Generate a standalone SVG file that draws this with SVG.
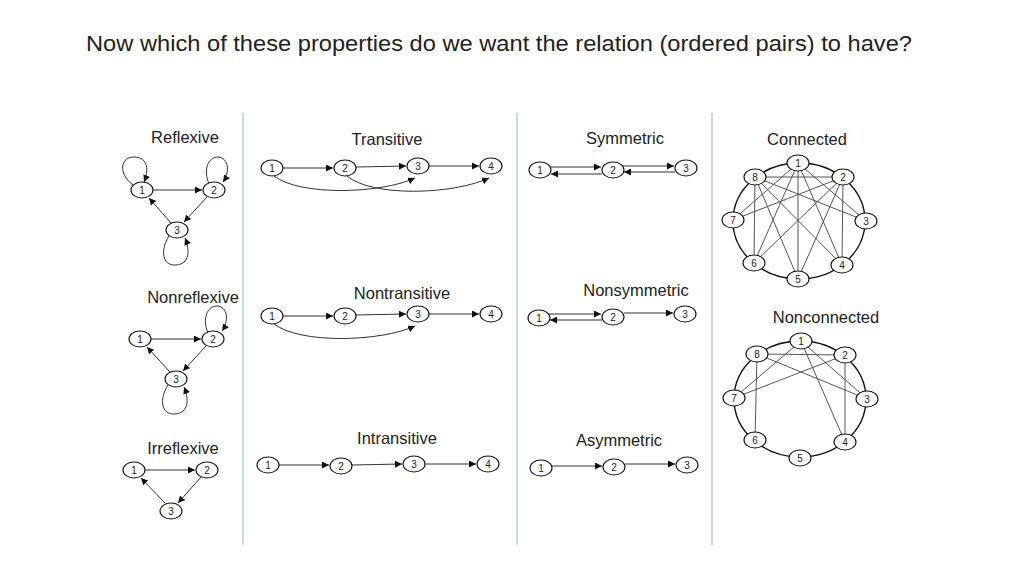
<svg xmlns="http://www.w3.org/2000/svg" width="1024" height="576" viewBox="0 0 1024 576">
<style>
.t{font-family:"Liberation Sans",Arial,sans-serif;font-size:16.5px;fill:#222;text-anchor:middle}
.h{font-family:"Liberation Sans",Arial,sans-serif;font-size:22px;fill:#222}
.n ellipse{fill:#fff;stroke:#111;stroke-width:1.1}
.n text{font-family:"Liberation Sans",Arial,sans-serif;font-size:10px;fill:#222;text-anchor:middle}
.e{fill:none;stroke:#333;stroke-width:1}
.a{fill:none;stroke:#333;stroke-width:1;marker-end:url(#ah)}
.g{fill:none;stroke:#444;stroke-width:0.9}
.div{stroke:#a9bcd0;stroke-width:1.2}
.ring{fill:none;stroke:#111;stroke-width:1.4}
</style>
<defs>
<marker id="ah" markerUnits="userSpaceOnUse" markerWidth="8" markerHeight="7" refX="7" refY="3.5" orient="auto">
<path d="M0,0 L7,3.5 L0,7 z" fill="#111"/>
</marker>
</defs>
<rect width="1024" height="576" fill="#fff"/>
<text class="h" x="86" y="51" textLength="826" lengthAdjust="spacingAndGlyphs">Now which of these properties do we want the relation (ordered pairs) to have?</text>
<g id="dividers">
<line class="div" x1="243" y1="113" x2="243" y2="545"/>
<line class="div" x1="517" y1="113" x2="517" y2="545"/>
<line class="div" x1="712" y1="113" x2="712" y2="545"/>
</g>
<g id="titles">
<text class="t" x="185" y="143">Reflexive</text>
<text class="t" x="193" y="303">Nonreflexive</text>
<text class="t" x="183" y="454">Irreflexive</text>
<text class="t" x="387" y="145">Transitive</text>
<text class="t" x="402" y="299">Nontransitive</text>
<text class="t" x="397" y="444">Intransitive</text>
<text class="t" x="625" y="144">Symmetric</text>
<text class="t" x="636" y="296">Nonsymmetric</text>
<text class="t" x="619" y="446">Asymmetric</text>
<text class="t" x="807" y="145">Connected</text>
<text class="t" x="826" y="323">Nonconnected</text>
</g>
<g id="connectors">
<!-- Reflexive -->
<line class="a" x1="153" y1="190" x2="202" y2="190"/>
<line class="a" x1="207" y1="197" x2="184" y2="222"/>
<line class="a" x1="171" y1="223" x2="149" y2="198"/>
<path class="a" d="M133,185 C117,173 121,156 135,157 C148,158 149,170 144,182"/>
<path class="a" d="M209,184 C203,170 208,157 218,157 C229,158 230,172 223,182"/>
<path class="a" d="M169,236 C160,250 162,266 176,265 C190,264 190,250 185,238"/>
<!-- Nonreflexive -->
<line class="a" x1="151" y1="339" x2="201" y2="339"/>
<line class="a" x1="206" y1="346" x2="183" y2="371"/>
<line class="a" x1="170" y1="372" x2="147" y2="347"/>
<path class="a" d="M208,333 C202,319 207,306 217,306 C228,307 229,321 222,331"/>
<path class="a" d="M168,385 C159,399 161,415 175,414 C189,413 189,399 184,387"/>
<!-- Irreflexive -->
<line class="a" x1="145" y1="470" x2="195" y2="470"/>
<line class="a" x1="201" y1="477" x2="178" y2="503"/>
<line class="a" x1="165" y1="503" x2="141" y2="478"/>
<!-- Transitive -->
<line class="a" x1="283" y1="168" x2="333" y2="168"/>
<line class="a" x1="356" y1="167" x2="406" y2="166"/>
<line class="a" x1="429" y1="166" x2="479" y2="166"/>
<path class="a" d="M274,176 C300,196 380,194 415,178"/>
<path class="a" d="M347,176 C372,197 452,195 489,178"/>
<!-- Nontransitive -->
<line class="a" x1="283" y1="316" x2="333" y2="316"/>
<line class="a" x1="356" y1="315" x2="406" y2="314"/>
<line class="a" x1="429" y1="314" x2="479" y2="314"/>
<path class="a" d="M274,324 C300,344 380,342 415,326"/>
<!-- Intransitive -->
<line class="a" x1="279" y1="465" x2="329" y2="465"/>
<line class="a" x1="352" y1="465" x2="402" y2="464"/>
<line class="a" x1="425" y1="464" x2="476" y2="464"/>
<!-- Symmetric -->
<line class="a" x1="550" y1="167" x2="601" y2="167"/>
<line class="a" x1="602" y1="174" x2="551" y2="174"/>
<line class="a" x1="623" y1="166" x2="674" y2="166"/>
<line class="a" x1="675" y1="172" x2="624" y2="172"/>
<!-- Nonsymmetric -->
<line class="a" x1="549" y1="314" x2="601" y2="314"/>
<line class="a" x1="602" y1="320" x2="550" y2="320"/>
<line class="a" x1="624" y1="313" x2="673" y2="313"/>
<!-- Asymmetric -->
<line class="a" x1="552" y1="466" x2="602" y2="466"/>
<line class="a" x1="625" y1="464" x2="675" y2="464"/>
<!-- Connected -->
<ellipse class="ring" cx="799" cy="221" rx="66" ry="58"/>
<line class="g" x1="798" y1="163" x2="733" y2="220"/>
<line class="g" x1="798" y1="163" x2="754" y2="263"/>
<line class="g" x1="798" y1="163" x2="798" y2="279"/>
<line class="g" x1="798" y1="163" x2="842" y2="265"/>
<line class="g" x1="798" y1="163" x2="866" y2="221"/>
<line class="g" x1="755" y1="177" x2="843" y2="177"/>
<line class="g" x1="755" y1="177" x2="866" y2="221"/>
<line class="g" x1="755" y1="177" x2="842" y2="265"/>
<line class="g" x1="755" y1="177" x2="798" y2="279"/>
<line class="g" x1="755" y1="177" x2="754" y2="263"/>
<line class="g" x1="843" y1="177" x2="733" y2="220"/>
<line class="g" x1="843" y1="177" x2="754" y2="263"/>
<line class="g" x1="843" y1="177" x2="798" y2="279"/>
<line class="g" x1="843" y1="177" x2="842" y2="265"/>
<!-- Nonconnected -->
<ellipse class="ring" cx="800" cy="399" rx="66" ry="58"/>
<line class="g" x1="757" y1="354" x2="845" y2="355"/>
<line class="g" x1="757" y1="354" x2="867" y2="399"/>
<line class="g" x1="757" y1="354" x2="755" y2="440"/>
<line class="g" x1="801" y1="341" x2="734" y2="398"/>
<line class="g" x1="845" y1="355" x2="734" y2="398"/>
<line class="g" x1="801" y1="341" x2="867" y2="399"/>
<line class="g" x1="801" y1="341" x2="845" y2="442"/>
<line class="g" x1="845" y1="355" x2="845" y2="442"/>
</g>
<!-- Reflexive nodes -->
<g id="r1" class="n"><ellipse cx="142" cy="190" rx="11" ry="8"/><text x="142" y="194">1</text></g>
<g id="r2" class="n"><ellipse cx="214" cy="190" rx="11" ry="8"/><text x="214" y="194">2</text></g>
<g id="r3" class="n"><ellipse cx="177" cy="230" rx="11" ry="8"/><text x="177" y="234">3</text></g>
<!-- Nonreflexive nodes -->
<g id="nr1" class="n"><ellipse cx="140" cy="339" rx="11" ry="8"/><text x="140" y="343">1</text></g>
<g id="nr2" class="n"><ellipse cx="213" cy="339" rx="11" ry="8"/><text x="213" y="343">2</text></g>
<g id="nr3" class="n"><ellipse cx="176" cy="379" rx="11" ry="8"/><text x="176" y="383">3</text></g>
<!-- Irreflexive nodes -->
<g id="ir1" class="n"><ellipse cx="134" cy="470" rx="11" ry="8"/><text x="134" y="474">1</text></g>
<g id="ir2" class="n"><ellipse cx="207" cy="470" rx="11" ry="8"/><text x="207" y="474">2</text></g>
<g id="ir3" class="n"><ellipse cx="171" cy="511" rx="11" ry="8"/><text x="171" y="515">3</text></g>
<!-- Transitive nodes -->
<g id="t1" class="n"><ellipse cx="272" cy="168" rx="11" ry="8"/><text x="272" y="172">1</text></g>
<g id="t2" class="n"><ellipse cx="345" cy="168" rx="11" ry="8"/><text x="345" y="172">2</text></g>
<g id="t3" class="n"><ellipse cx="418" cy="166" rx="11" ry="8"/><text x="418" y="170">3</text></g>
<g id="t4" class="n"><ellipse cx="491" cy="166" rx="11" ry="8"/><text x="491" y="170">4</text></g>
<!-- Nontransitive nodes -->
<g id="nt1" class="n"><ellipse cx="272" cy="316" rx="11" ry="8"/><text x="272" y="320">1</text></g>
<g id="nt2" class="n"><ellipse cx="345" cy="316" rx="11" ry="8"/><text x="345" y="320">2</text></g>
<g id="nt3" class="n"><ellipse cx="418" cy="314" rx="11" ry="8"/><text x="418" y="318">3</text></g>
<g id="nt4" class="n"><ellipse cx="491" cy="314" rx="11" ry="8"/><text x="491" y="318">4</text></g>
<!-- Intransitive nodes -->
<g id="it1" class="n"><ellipse cx="268" cy="465" rx="11" ry="8"/><text x="268" y="469">1</text></g>
<g id="it2" class="n"><ellipse cx="341" cy="466" rx="11" ry="8"/><text x="341" y="470">2</text></g>
<g id="it3" class="n"><ellipse cx="414" cy="464" rx="11" ry="8"/><text x="414" y="468">3</text></g>
<g id="it4" class="n"><ellipse cx="488" cy="464" rx="11" ry="8"/><text x="488" y="468">4</text></g>
<!-- Symmetric nodes -->
<g id="s1" class="n"><ellipse cx="540" cy="170" rx="11" ry="8"/><text x="540" y="174">1</text></g>
<g id="s2" class="n"><ellipse cx="613" cy="170" rx="11" ry="8"/><text x="613" y="174">2</text></g>
<g id="s3" class="n"><ellipse cx="686" cy="168" rx="11" ry="8"/><text x="686" y="172">3</text></g>
<!-- Nonsymmetric nodes -->
<g id="ns1" class="n"><ellipse cx="539" cy="318" rx="11" ry="8"/><text x="539" y="322">1</text></g>
<g id="ns2" class="n"><ellipse cx="613" cy="317" rx="11" ry="8"/><text x="613" y="321">2</text></g>
<g id="ns3" class="n"><ellipse cx="685" cy="314" rx="11" ry="8"/><text x="685" y="318">3</text></g>
<!-- Asymmetric nodes -->
<g id="as1" class="n"><ellipse cx="541" cy="468" rx="11" ry="8"/><text x="541" y="472">1</text></g>
<g id="as2" class="n"><ellipse cx="614" cy="467" rx="11" ry="8"/><text x="614" y="471">2</text></g>
<g id="as3" class="n"><ellipse cx="687" cy="465" rx="11" ry="8"/><text x="687" y="469">3</text></g>
<!-- Connected nodes -->
<g id="c1" class="n"><ellipse cx="798" cy="163" rx="11" ry="8"/><text x="798" y="167">1</text></g>
<g id="c2" class="n"><ellipse cx="843" cy="177" rx="11" ry="8"/><text x="843" y="181">2</text></g>
<g id="c3" class="n"><ellipse cx="866" cy="221" rx="11" ry="8"/><text x="866" y="225">3</text></g>
<g id="c4" class="n"><ellipse cx="842" cy="265" rx="11" ry="8"/><text x="842" y="269">4</text></g>
<g id="c5" class="n"><ellipse cx="798" cy="279" rx="11" ry="8"/><text x="798" y="283">5</text></g>
<g id="c6" class="n"><ellipse cx="754" cy="263" rx="11" ry="8"/><text x="754" y="267">6</text></g>
<g id="c7" class="n"><ellipse cx="733" cy="220" rx="11" ry="8"/><text x="733" y="224">7</text></g>
<g id="c8" class="n"><ellipse cx="755" cy="177" rx="11" ry="8"/><text x="755" y="181">8</text></g>
<!-- Nonconnected nodes -->
<g id="nc1" class="n"><ellipse cx="801" cy="341" rx="11" ry="8"/><text x="801" y="345">1</text></g>
<g id="nc2" class="n"><ellipse cx="845" cy="355" rx="11" ry="8"/><text x="845" y="359">2</text></g>
<g id="nc3" class="n"><ellipse cx="867" cy="399" rx="11" ry="8"/><text x="867" y="403">3</text></g>
<g id="nc4" class="n"><ellipse cx="845" cy="442" rx="11" ry="8"/><text x="845" y="446">4</text></g>
<g id="nc5" class="n"><ellipse cx="800" cy="458" rx="11" ry="8"/><text x="800" y="462">5</text></g>
<g id="nc6" class="n"><ellipse cx="755" cy="440" rx="11" ry="8"/><text x="755" y="444">6</text></g>
<g id="nc7" class="n"><ellipse cx="734" cy="398" rx="11" ry="8"/><text x="734" y="402">7</text></g>
<g id="nc8" class="n"><ellipse cx="757" cy="354" rx="11" ry="8"/><text x="757" y="358">8</text></g>
</svg>
